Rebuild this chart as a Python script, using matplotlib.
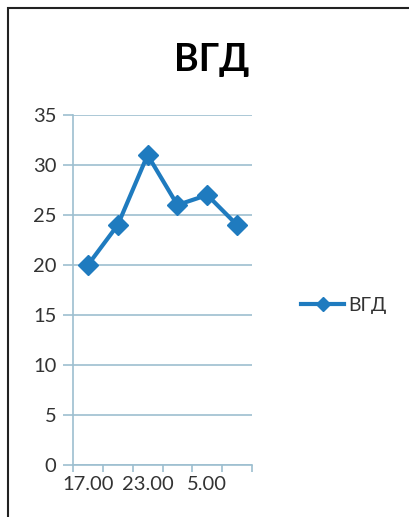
import matplotlib.pyplot as plt
import matplotlib.patches as patches

plt.rcParams['font.family'] = ['Lato', 'DejaVu Sans']

# data
categories = ['17.00', '20.00', '23.00', '2.00', '5.00', '8.00']
values = [20, 24, 31, 26, 27, 24]
shown_labels = ['17.00', '', '23.00', '', '5.00', '']
series_name = 'ВГД'

line_color = '#1f7bbf'
grid_color = '#9dbfd0'
text_color = '#333333'

fig = plt.figure(figsize=(4.1, 5.17), dpi=100)
fig.patch.set_facecolor('white')

# outer frame of the chart object
fig.add_artist(patches.Rectangle((8 / 410, -0.1), 1.2, 1 - 8 / 517 + 0.1,
                                 transform=fig.transFigure, fill=False,
                                 edgecolor='#222222', linewidth=1.5))

ax = fig.add_axes([73 / 410, 1 - 465 / 517, (252 - 73) / 410, (465 - 115) / 517])

x = list(range(len(categories)))
ax.plot(x, values, color=line_color, linewidth=3, marker='D', markersize=10,
        label=series_name)

ax.set_xlim(-0.5, len(categories) - 0.5)
ax.set_ylim(0, 35)
ax.set_yticks(range(0, 36, 5))
ax.yaxis.grid(True, color=grid_color, linewidth=1.2)
ax.set_axisbelow(True)

# category ticks between categories, labels under every other one
ax.set_xticks([i - 0.5 for i in range(len(categories) + 1)])
ax.set_xticklabels([])
ax.set_xticks(x, minor=True)
ax.set_xticklabels(shown_labels, minor=True)
ax.tick_params(axis='x', which='minor', length=0, pad=8,
               labelsize=14.5, labelcolor=text_color)
ax.tick_params(axis='x', which='major', length=5, color=grid_color, width=1.2)
ax.tick_params(axis='y', length=7, color=grid_color, width=1.2,
               labelsize=14.5, labelcolor=text_color, pad=5)

for s in ['top', 'right']:
    ax.spines[s].set_visible(False)
ax.spines['left'].set_color(grid_color)
ax.spines['bottom'].set_color(grid_color)
ax.spines['left'].set_linewidth(1.2)
ax.spines['bottom'].set_linewidth(1.2)

fig.text(212 / 410, 1 - 60 / 517, series_name, ha='center', va='center',
         fontsize=27, fontweight='bold', color='black')

fig.legend(loc='center left', bbox_to_anchor=(284 / 410, 1 - 305 / 517),
           frameon=False, fontsize=14, handlelength=2.2, handletextpad=0.2,
           labelcolor=text_color, markerscale=0.7)

fig.savefig('out.png', dpi=100)
